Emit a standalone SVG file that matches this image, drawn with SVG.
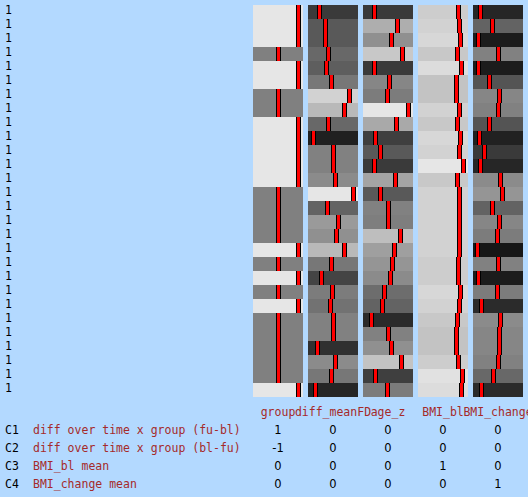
<svg xmlns="http://www.w3.org/2000/svg" xmlns:xlink="http://www.w3.org/1999/xlink" width="528" height="497" viewBox="0 0 528 497">
<style>
text{font-family:"DejaVu Sans Mono","Liberation Mono",monospace;font-size:11.5px}
.n{font-family:"DejaVu Sans","Liberation Sans",sans-serif;font-size:11.5px}
.k{fill:#000}
.r{fill:#a52a2a}
.m{text-anchor:middle}
</style>
<defs>
<g id="b"><rect width="5" height="14" fill="#000"/><rect x="1" width="3" height="14" fill="#f00"/></g>
</defs>
<rect width="528" height="497" fill="#b3d9ff"/>
<g id="rowlabels" class="k n">
<text x="5" y="14">1</text><text x="5" y="28">1</text><text x="5" y="42">1</text><text x="5" y="56">1</text><text x="5" y="70">1</text><text x="5" y="84">1</text><text x="5" y="98">1</text><text x="5" y="112">1</text><text x="5" y="126">1</text><text x="5" y="140">1</text><text x="5" y="154">1</text><text x="5" y="168">1</text><text x="5" y="182">1</text><text x="5" y="196">1</text><text x="5" y="210">1</text><text x="5" y="224">1</text><text x="5" y="238">1</text><text x="5" y="252">1</text><text x="5" y="266">1</text><text x="5" y="280">1</text><text x="5" y="294">1</text><text x="5" y="308">1</text><text x="5" y="322">1</text><text x="5" y="336">1</text><text x="5" y="350">1</text><text x="5" y="364">1</text><text x="5" y="378">1</text><text x="5" y="392">1</text>
</g>
<g id="col-group">
<rect x="253" y="5" width="50" height="42" fill="#e6e6e6"/>
<rect x="253" y="47" width="50" height="14" fill="#808080"/>
<rect x="253" y="61" width="50" height="28" fill="#e6e6e6"/>
<rect x="253" y="89" width="50" height="28" fill="#808080"/>
<rect x="253" y="117" width="50" height="70" fill="#e6e6e6"/>
<rect x="253" y="187" width="50" height="56" fill="#808080"/>
<rect x="253" y="243" width="50" height="14" fill="#e6e6e6"/>
<rect x="253" y="257" width="50" height="14" fill="#808080"/>
<rect x="253" y="271" width="50" height="14" fill="#e6e6e6"/>
<rect x="253" y="285" width="50" height="14" fill="#808080"/>
<rect x="253" y="299" width="50" height="14" fill="#e6e6e6"/>
<rect x="253" y="313" width="50" height="70" fill="#808080"/>
<rect x="253" y="383" width="50" height="14" fill="#e6e6e6"/>
<use href="#b" x="296" y="5"/><use href="#b" x="296" y="19"/><use href="#b" x="296" y="33"/><use href="#b" x="276" y="47"/><use href="#b" x="296" y="61"/><use href="#b" x="296" y="75"/><use href="#b" x="276" y="89"/><use href="#b" x="276" y="103"/><use href="#b" x="296" y="117"/><use href="#b" x="296" y="131"/><use href="#b" x="296" y="145"/><use href="#b" x="296" y="159"/><use href="#b" x="296" y="173"/><use href="#b" x="276" y="187"/><use href="#b" x="276" y="201"/><use href="#b" x="276" y="215"/><use href="#b" x="276" y="229"/><use href="#b" x="296" y="243"/><use href="#b" x="276" y="257"/><use href="#b" x="296" y="271"/><use href="#b" x="276" y="285"/><use href="#b" x="296" y="299"/><use href="#b" x="276" y="313"/><use href="#b" x="276" y="327"/><use href="#b" x="276" y="341"/><use href="#b" x="276" y="355"/><use href="#b" x="276" y="369"/><use href="#b" x="296" y="383"/>
</g>
<g id="col-diff_meanFD">
<rect x="308" y="5" width="50" height="14" fill="#3a3a3a"/><use href="#b" x="317" y="5"/>
<rect x="308" y="19" width="50" height="14" fill="#595959"/><use href="#b" x="323" y="19"/>
<rect x="308" y="33" width="50" height="14" fill="#595959"/><use href="#b" x="323" y="33"/>
<rect x="308" y="47" width="50" height="14" fill="#686868"/><use href="#b" x="326" y="47"/>
<rect x="308" y="61" width="50" height="14" fill="#5e5e5e"/><use href="#b" x="324" y="61"/>
<rect x="308" y="75" width="50" height="14" fill="#777777"/><use href="#b" x="329" y="75"/>
<rect x="308" y="89" width="50" height="14" fill="#d2d2d2"/><use href="#b" x="347" y="89"/>
<rect x="308" y="103" width="50" height="14" fill="#b9b9b9"/><use href="#b" x="342" y="103"/>
<rect x="308" y="117" width="50" height="14" fill="#686868"/><use href="#b" x="326" y="117"/>
<rect x="308" y="131" width="50" height="14" fill="#202020"/><use href="#b" x="311" y="131"/>
<rect x="308" y="145" width="50" height="14" fill="#818181"/><use href="#b" x="331" y="145"/>
<rect x="308" y="159" width="50" height="14" fill="#818181"/><use href="#b" x="331" y="159"/>
<rect x="308" y="173" width="50" height="14" fill="#8b8b8b"/><use href="#b" x="333" y="173"/>
<rect x="308" y="187" width="50" height="14" fill="#e6e6e6"/><use href="#b" x="351" y="187"/>
<rect x="308" y="201" width="50" height="14" fill="#636363"/><use href="#b" x="325" y="201"/>
<rect x="308" y="215" width="50" height="14" fill="#9a9a9a"/><use href="#b" x="336" y="215"/>
<rect x="308" y="229" width="50" height="14" fill="#909090"/><use href="#b" x="334" y="229"/>
<rect x="308" y="243" width="50" height="14" fill="#b9b9b9"/><use href="#b" x="342" y="243"/>
<rect x="308" y="257" width="50" height="14" fill="#777777"/><use href="#b" x="329" y="257"/>
<rect x="308" y="271" width="50" height="14" fill="#444444"/><use href="#b" x="319" y="271"/>
<rect x="308" y="285" width="50" height="14" fill="#7c7c7c"/><use href="#b" x="330" y="285"/>
<rect x="308" y="299" width="50" height="14" fill="#727272"/><use href="#b" x="328" y="299"/>
<rect x="308" y="313" width="50" height="14" fill="#818181"/><use href="#b" x="331" y="313"/>
<rect x="308" y="327" width="50" height="14" fill="#818181"/><use href="#b" x="331" y="327"/>
<rect x="308" y="341" width="50" height="14" fill="#303030"/><use href="#b" x="315" y="341"/>
<rect x="308" y="355" width="50" height="14" fill="#8b8b8b"/><use href="#b" x="333" y="355"/>
<rect x="308" y="369" width="50" height="14" fill="#777777"/><use href="#b" x="329" y="369"/>
<rect x="308" y="383" width="50" height="14" fill="#262626"/><use href="#b" x="313" y="383"/>
</g>
<g id="col-age_z">
<rect x="363" y="5" width="50" height="14" fill="#3a3a3a"/><use href="#b" x="372" y="5"/>
<rect x="363" y="19" width="50" height="14" fill="#aeaeae"/><use href="#b" x="395" y="19"/>
<rect x="363" y="33" width="50" height="14" fill="#909090"/><use href="#b" x="389" y="33"/>
<rect x="363" y="47" width="50" height="14" fill="#c8c8c8"/><use href="#b" x="400" y="47"/>
<rect x="363" y="61" width="50" height="14" fill="#3a3a3a"/><use href="#b" x="372" y="61"/>
<rect x="363" y="75" width="50" height="14" fill="#868686"/><use href="#b" x="387" y="75"/>
<rect x="363" y="89" width="50" height="14" fill="#7c7c7c"/><use href="#b" x="385" y="89"/>
<rect x="363" y="103" width="50" height="14" fill="#e6e6e6"/><use href="#b" x="406" y="103"/>
<rect x="363" y="117" width="50" height="14" fill="#a9a9a9"/><use href="#b" x="394" y="117"/>
<rect x="363" y="131" width="50" height="14" fill="#3f3f3f"/><use href="#b" x="373" y="131"/>
<rect x="363" y="145" width="50" height="14" fill="#595959"/><use href="#b" x="378" y="145"/>
<rect x="363" y="159" width="50" height="14" fill="#3a3a3a"/><use href="#b" x="372" y="159"/>
<rect x="363" y="173" width="50" height="14" fill="#a4a4a4"/><use href="#b" x="393" y="173"/>
<rect x="363" y="187" width="50" height="14" fill="#595959"/><use href="#b" x="378" y="187"/>
<rect x="363" y="201" width="50" height="14" fill="#818181"/><use href="#b" x="386" y="201"/>
<rect x="363" y="215" width="50" height="14" fill="#7e7e7e"/><use href="#b" x="386" y="215"/>
<rect x="363" y="229" width="50" height="14" fill="#bebebe"/><use href="#b" x="398" y="229"/>
<rect x="363" y="243" width="50" height="14" fill="#9f9f9f"/><use href="#b" x="392" y="243"/>
<rect x="363" y="257" width="50" height="14" fill="#959595"/><use href="#b" x="390" y="257"/>
<rect x="363" y="271" width="50" height="14" fill="#8b8b8b"/><use href="#b" x="388" y="271"/>
<rect x="363" y="285" width="50" height="14" fill="#6d6d6d"/><use href="#b" x="382" y="285"/>
<rect x="363" y="299" width="50" height="14" fill="#636363"/><use href="#b" x="380" y="299"/>
<rect x="363" y="313" width="50" height="14" fill="#2b2b2b"/><use href="#b" x="369" y="313"/>
<rect x="363" y="327" width="50" height="14" fill="#818181"/><use href="#b" x="386" y="327"/>
<rect x="363" y="341" width="50" height="14" fill="#909090"/><use href="#b" x="389" y="341"/>
<rect x="363" y="355" width="50" height="14" fill="#c3c3c3"/><use href="#b" x="399" y="355"/>
<rect x="363" y="369" width="50" height="14" fill="#3f3f3f"/><use href="#b" x="373" y="369"/>
<rect x="363" y="383" width="50" height="14" fill="#7c7c7c"/><use href="#b" x="385" y="383"/>
</g>
<g id="col-BMI_bl">
<rect x="418" y="5" width="50" height="14" fill="#cdcdcd"/><use href="#b" x="456" y="5"/>
<rect x="418" y="19" width="50" height="14" fill="#d2d2d2"/><use href="#b" x="457" y="19"/>
<rect x="418" y="33" width="50" height="14" fill="#d7d7d7"/><use href="#b" x="458" y="33"/>
<rect x="418" y="47" width="50" height="14" fill="#c8c8c8"/><use href="#b" x="455" y="47"/>
<rect x="418" y="61" width="50" height="14" fill="#dcdcdc"/><use href="#b" x="459" y="61"/>
<rect x="418" y="75" width="50" height="14" fill="#c3c3c3"/><use href="#b" x="454" y="75"/>
<rect x="418" y="89" width="50" height="14" fill="#c3c3c3"/><use href="#b" x="454" y="89"/>
<rect x="418" y="103" width="50" height="14" fill="#d2d2d2"/><use href="#b" x="457" y="103"/>
<rect x="418" y="117" width="50" height="14" fill="#c8c8c8"/><use href="#b" x="455" y="117"/>
<rect x="418" y="131" width="50" height="14" fill="#d7d7d7"/><use href="#b" x="458" y="131"/>
<rect x="418" y="145" width="50" height="14" fill="#d2d2d2"/><use href="#b" x="457" y="145"/>
<rect x="418" y="159" width="50" height="14" fill="#e6e6e6"/><use href="#b" x="461" y="159"/>
<rect x="418" y="173" width="50" height="14" fill="#c8c8c8"/><use href="#b" x="455" y="173"/>
<rect x="418" y="187" width="50" height="14" fill="#d2d2d2"/><use href="#b" x="457" y="187"/>
<rect x="418" y="201" width="50" height="14" fill="#d2d2d2"/><use href="#b" x="457" y="201"/>
<rect x="418" y="215" width="50" height="14" fill="#d2d2d2"/><use href="#b" x="457" y="215"/>
<rect x="418" y="229" width="50" height="14" fill="#d2d2d2"/><use href="#b" x="457" y="229"/>
<rect x="418" y="243" width="50" height="14" fill="#d2d2d2"/><use href="#b" x="457" y="243"/>
<rect x="418" y="257" width="50" height="14" fill="#cdcdcd"/><use href="#b" x="456" y="257"/>
<rect x="418" y="271" width="50" height="14" fill="#cdcdcd"/><use href="#b" x="456" y="271"/>
<rect x="418" y="285" width="50" height="14" fill="#d7d7d7"/><use href="#b" x="458" y="285"/>
<rect x="418" y="299" width="50" height="14" fill="#d2d2d2"/><use href="#b" x="457" y="299"/>
<rect x="418" y="313" width="50" height="14" fill="#c8c8c8"/><use href="#b" x="455" y="313"/>
<rect x="418" y="327" width="50" height="14" fill="#c3c3c3"/><use href="#b" x="454" y="327"/>
<rect x="418" y="341" width="50" height="14" fill="#c3c3c3"/><use href="#b" x="454" y="341"/>
<rect x="418" y="355" width="50" height="14" fill="#cdcdcd"/><use href="#b" x="456" y="355"/>
<rect x="418" y="369" width="50" height="14" fill="#e1e1e1"/><use href="#b" x="460" y="369"/>
<rect x="418" y="383" width="50" height="14" fill="#dcdcdc"/><use href="#b" x="459" y="383"/>
</g>
<g id="col-BMI_change">
<rect x="473" y="5" width="50" height="14" fill="#262626"/><use href="#b" x="478" y="5"/>
<rect x="473" y="19" width="50" height="14" fill="#636363"/><use href="#b" x="490" y="19"/>
<rect x="473" y="33" width="50" height="14" fill="#1c1c1c"/><use href="#b" x="476" y="33"/>
<rect x="473" y="47" width="50" height="14" fill="#818181"/><use href="#b" x="496" y="47"/>
<rect x="473" y="61" width="50" height="14" fill="#1c1c1c"/><use href="#b" x="476" y="61"/>
<rect x="473" y="75" width="50" height="14" fill="#545454"/><use href="#b" x="487" y="75"/>
<rect x="473" y="89" width="50" height="14" fill="#868686"/><use href="#b" x="497" y="89"/>
<rect x="473" y="103" width="50" height="14" fill="#818181"/><use href="#b" x="496" y="103"/>
<rect x="473" y="117" width="50" height="14" fill="#545454"/><use href="#b" x="487" y="117"/>
<rect x="473" y="131" width="50" height="14" fill="#212121"/><use href="#b" x="477" y="131"/>
<rect x="473" y="145" width="50" height="14" fill="#3a3a3a"/><use href="#b" x="482" y="145"/>
<rect x="473" y="159" width="50" height="14" fill="#262626"/><use href="#b" x="478" y="159"/>
<rect x="473" y="173" width="50" height="14" fill="#8b8b8b"/><use href="#b" x="498" y="173"/>
<rect x="473" y="187" width="50" height="14" fill="#959595"/><use href="#b" x="500" y="187"/>
<rect x="473" y="201" width="50" height="14" fill="#636363"/><use href="#b" x="490" y="201"/>
<rect x="473" y="215" width="50" height="14" fill="#868686"/><use href="#b" x="497" y="215"/>
<rect x="473" y="229" width="50" height="14" fill="#7c7c7c"/><use href="#b" x="495" y="229"/>
<rect x="473" y="243" width="50" height="14" fill="#171717"/><use href="#b" x="475" y="243"/>
<rect x="473" y="257" width="50" height="14" fill="#818181"/><use href="#b" x="496" y="257"/>
<rect x="473" y="271" width="50" height="14" fill="#1c1c1c"/><use href="#b" x="476" y="271"/>
<rect x="473" y="285" width="50" height="14" fill="#7c7c7c"/><use href="#b" x="495" y="285"/>
<rect x="473" y="299" width="50" height="14" fill="#2b2b2b"/><use href="#b" x="479" y="299"/>
<rect x="473" y="313" width="50" height="14" fill="#8b8b8b"/><use href="#b" x="498" y="313"/>
<rect x="473" y="327" width="50" height="14" fill="#868686"/><use href="#b" x="497" y="327"/>
<rect x="473" y="341" width="50" height="14" fill="#868686"/><use href="#b" x="497" y="341"/>
<rect x="473" y="355" width="50" height="14" fill="#818181"/><use href="#b" x="496" y="355"/>
<rect x="473" y="369" width="50" height="14" fill="#686868"/><use href="#b" x="491" y="369"/>
<rect x="473" y="383" width="50" height="14" fill="#2b2b2b"/><use href="#b" x="479" y="383"/>
</g>
<g id="headers" class="r m">
<text x="278" y="416">group</text>
<text x="333" y="416">diff_meanFD</text>
<text x="388" y="416">age_z</text>
<text x="443" y="416">BMI_bl</text>
<text x="498" y="416">BMI_change</text>
</g>
<g id="contrasts">
<text class="k" x="5" y="434">C1</text><text class="r" x="33" y="434">diff over time x group (fu-bl)</text>
<text class="k m n" x="278" y="434">1</text><text class="k m n" x="333" y="434">0</text><text class="k m n" x="388" y="434">0</text><text class="k m n" x="443" y="434">0</text><text class="k m n" x="498" y="434">0</text>
<text class="k" x="5" y="452">C2</text><text class="r" x="33" y="452">diff over time x group (bl-fu)</text>
<text class="k m n" x="278" y="452">-1</text><text class="k m n" x="333" y="452">0</text><text class="k m n" x="388" y="452">0</text><text class="k m n" x="443" y="452">0</text><text class="k m n" x="498" y="452">0</text>
<text class="k" x="5" y="470">C3</text><text class="r" x="33" y="470">BMI_bl mean</text>
<text class="k m n" x="278" y="470">0</text><text class="k m n" x="333" y="470">0</text><text class="k m n" x="388" y="470">0</text><text class="k m n" x="443" y="470">1</text><text class="k m n" x="498" y="470">0</text>
<text class="k" x="5" y="488">C4</text><text class="r" x="33" y="488">BMI_change mean</text>
<text class="k m n" x="278" y="488">0</text><text class="k m n" x="333" y="488">0</text><text class="k m n" x="388" y="488">0</text><text class="k m n" x="443" y="488">0</text><text class="k m n" x="498" y="488">1</text>
</g>
</svg>
